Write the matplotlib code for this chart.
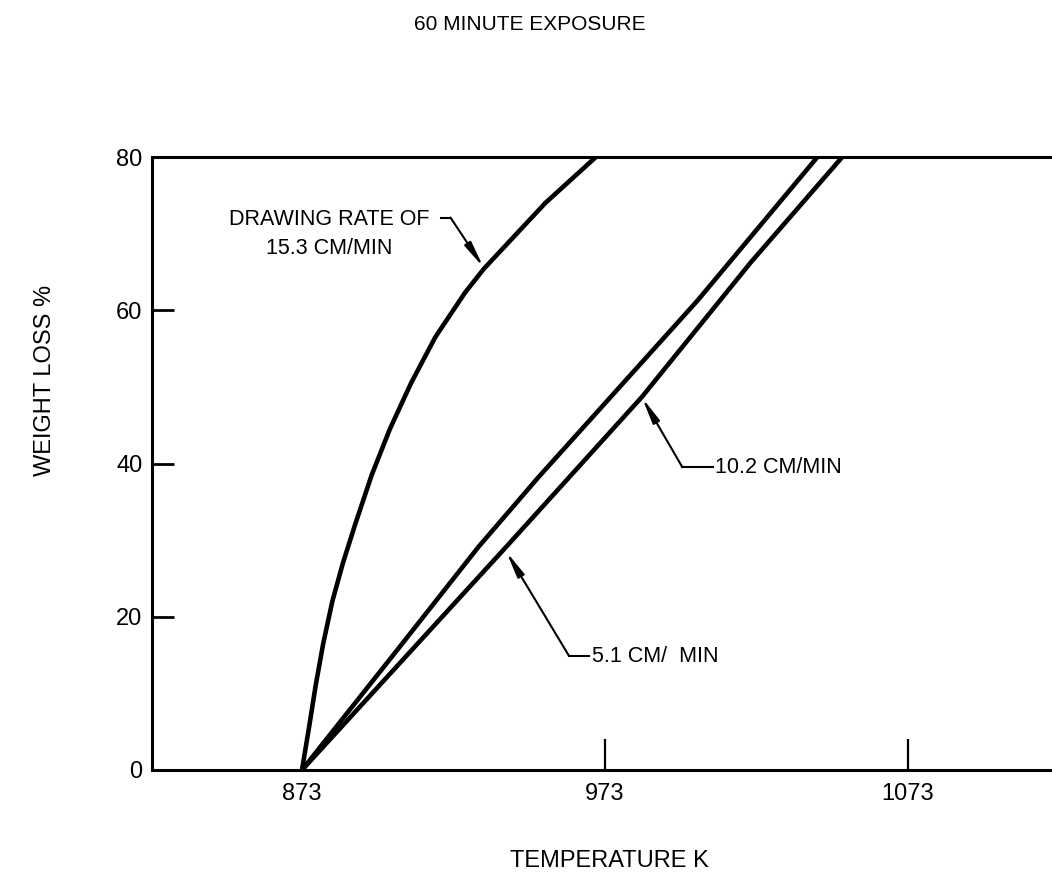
import numpy as np
import matplotlib
matplotlib.use('Agg')
import matplotlib.pyplot as plt

plt.rcParams['font.family'] = ['Liberation Sans', 'DejaVu Sans']

# curves (temperature K, weight loss %)
temp_153 = [873, 875.5, 877.5, 880.0, 883.0, 886.5, 890.5, 896.0, 902.0, 909.0, 917.0, 926.8, 933.0, 953.3, 970.0]
loss_153 = [0, 6.0, 11.0, 16.5, 22.0, 27.0, 32.0, 38.5, 44.5, 50.5, 56.5, 62.3, 65.4, 74.0, 80]

temp_102 = [873, 904.5, 931.2, 951.0, 1003.6, 1043.1]
loss_102 = [0, 15.7, 29.1, 38.2, 61.3, 80]

temp_51 = [873, 940.1, 985.2, 1021.0, 1051.3]
loss_51 = [0, 29.0, 48.7, 66.2, 80]

xticks = [873, 973, 1073]
yticks = [0, 20, 40, 60, 80]

fig = plt.figure(figsize=(10.52, 8.73), dpi=100)
ax = fig.add_axes([152/1052, 103/873, 900/1052, 613/873])

lw = 3.3
ax.plot(temp_153, loss_153, color='black', lw=lw, solid_capstyle='butt', solid_joinstyle='round')
ax.plot(temp_102, loss_102, color='black', lw=lw, solid_capstyle='butt', solid_joinstyle='round')
ax.plot(temp_51, loss_51, color='black', lw=lw, solid_capstyle='butt', solid_joinstyle='round')

ax.set_xlim(823.5, 1120.5)
ax.set_ylim(0, 80)
ax.set_xticks(xticks)
ax.set_xticklabels([str(t) for t in xticks])
ax.set_yticks(yticks)

for s in ['left', 'bottom', 'top']:
    ax.spines[s].set_linewidth(2.2)
ax.spines['right'].set_visible(False)

ax.tick_params(axis='x', direction='in', length=22, width=1.6, labelsize=17, pad=9)
ax.tick_params(axis='y', direction='in', length=16, width=2.0, labelsize=17, pad=7)
# no tick mark drawn at 873, the curves start there
ax.xaxis.get_major_ticks()[0].tick1line.set_visible(False)

arrow = dict(arrowstyle='-|>,head_length=1.1,head_width=0.16', color='black',
             lw=1.5, mutation_scale=14, shrinkA=0, shrinkB=0)

fs = 15.5
# 15.3 cm/min label
ax.text(882, 71.8, 'DRAWING RATE OF', ha='center', va='center', fontsize=fs)
ax.text(882, 68.1, '15.3 CM/MIN', ha='center', va='center', fontsize=fs)
ax.plot([918.9, 922.0], [72.1, 72.1], color='black', lw=1.5)
ax.annotate('', xy=(932.9, 65.6), xytext=(922.0, 72.1), arrowprops=arrow)

# 10.2 cm/min label
ax.plot([998.4, 1008.6], [39.6, 39.6], color='black', lw=1.5)
ax.annotate('', xy=(985.2, 48.6), xytext=(998.4, 39.6), arrowprops=arrow)
ax.text(1009.4, 39.5, '10.2 CM/MIN', ha='left', va='center', fontsize=fs)

# 5.1 cm/min label
ax.plot([961.1, 967.7], [14.9, 14.9], color='black', lw=1.5)
ax.annotate('', xy=(940.4, 28.5), xytext=(961.1, 14.9), arrowprops=arrow)
ax.text(968.7, 14.8, '5.1 CM/  MIN', ha='left', va='center', fontsize=fs)

fig.text(530/1052, 1 - 24/873, '60 MINUTE EXPOSURE', ha='center', va='center', fontsize=15)
fig.text(609/1052, 1 - 861/873, 'TEMPERATURE K', ha='center', va='center', fontsize=17)
fig.text(45/1052, 1 - 380/873, 'WEIGHT LOSS %', ha='center', va='center',
         rotation=90, fontsize=17)

fig.savefig('out.png', dpi=100)
